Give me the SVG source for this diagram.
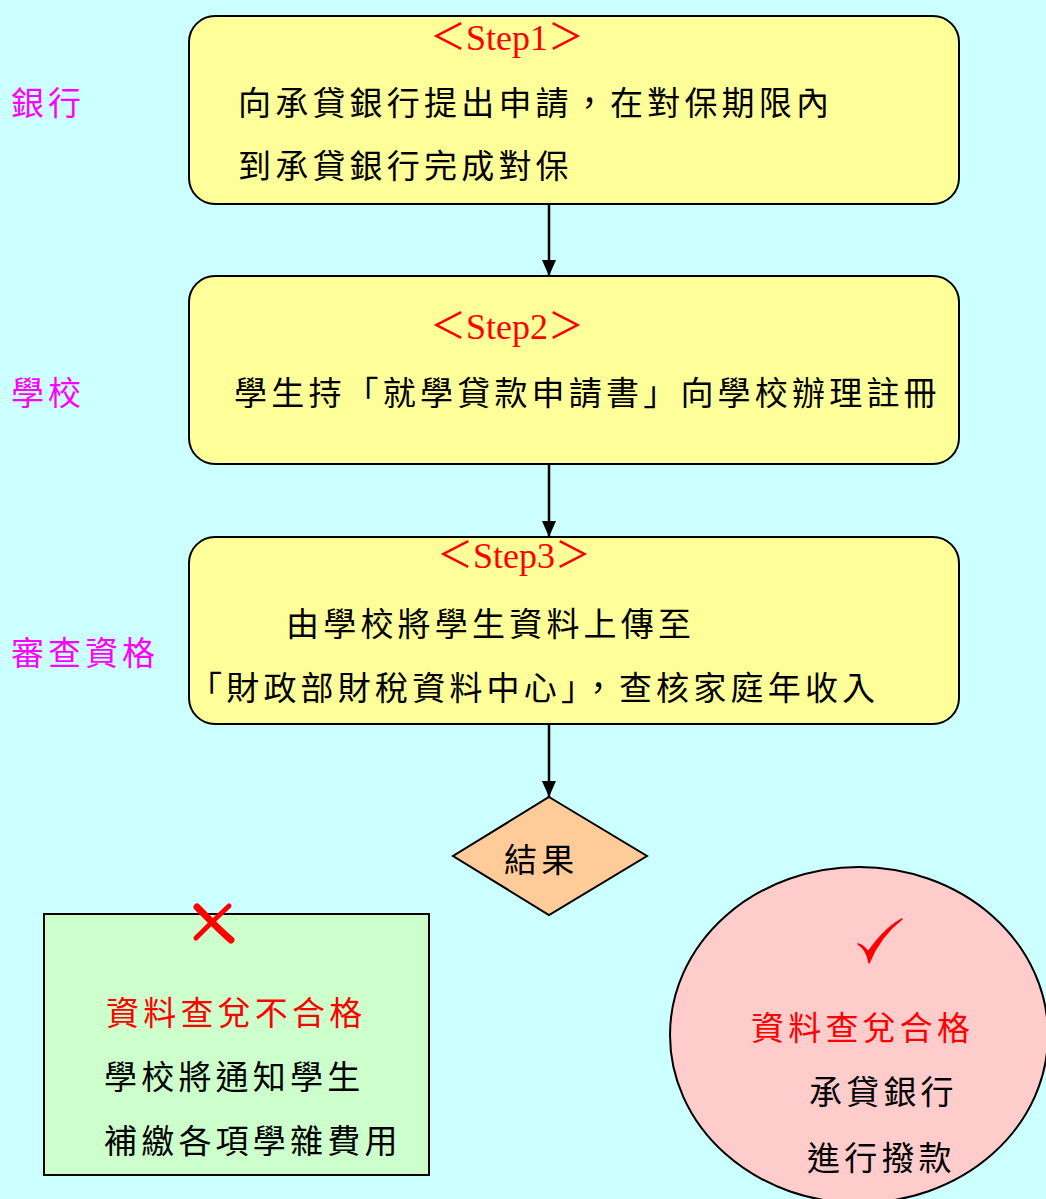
<svg xmlns="http://www.w3.org/2000/svg" width="1046" height="1199" viewBox="0 0 1046 1199">
<defs>
<style>
.box{fill:#FFFF99;stroke:#000;stroke-width:2}
.t{font-family:"Noto Sans CJK TC","Noto Sans CJK SC",sans-serif;font-size:33px;letter-spacing:4.2px;fill:#000}
.side{font-family:"Noto Sans CJK TC",sans-serif;font-size:33px;letter-spacing:4px;fill:#FF00FF}
.red{fill:#FF0000}
.step{font-family:"Liberation Serif","Noto Sans CJK TC",serif;font-size:36px;fill:#FF0000}
.conn{stroke:#000;stroke-width:2.5;fill:none}
</style>
<marker id="arr" viewBox="0 0 16 14" refX="16" refY="7" markerWidth="16" markerHeight="14" markerUnits="userSpaceOnUse" orient="auto">
<path d="M0,0 L16,7 L0,14 Z" fill="#000"/>
</marker>
</defs>
<rect width="1046" height="1199" fill="#CCFFFF"/>
<g id="labels">
<text class="side" x="11" y="115">銀行</text>
<text class="side" x="11" y="405">學校</text>
<text class="side" x="11" y="665">審查資格</text>
</g>
<g id="step1">
<rect class="box" x="189" y="16" width="770" height="188" rx="26"/>
<text class="step" x="430" y="50">＜Step1＞</text>
<text class="t" x="238" y="115">向承貸銀行提出申請，在對保期限內</text>
<text class="t" x="238" y="178">到承貸銀行完成對保</text>
</g>
<g id="step2">
<rect class="box" x="189" y="276" width="770" height="188" rx="26"/>
<text class="step" x="430" y="339">＜Step2＞</text>
<text class="t" x="234" y="405">學生持「就學貸款申請書」向學校辦理註冊</text>
</g>
<g id="step3">
<rect class="box" x="189" y="537" width="770" height="187" rx="26"/>
<text class="step" x="437" y="568">＜Step3＞</text>
<text class="t" x="286" y="636">由學校將學生資料上傳至</text>
<text class="t" x="189" y="700">「財政部財稅資料中心」，查核家庭年收入</text>
</g>
<g id="result">
<polygon points="549,797 647,856 549,915 453,856" fill="#FFCC99" stroke="#000" stroke-width="2"/>
<text class="t" x="504" y="872">結果</text>
</g>
<g id="fail">
<rect x="44" y="914" width="385" height="261" fill="#CCFFCC" stroke="#000" stroke-width="2"/>
<path d="M197,907 C206,916 218,929 231,940" stroke="#FF0000" stroke-width="7" fill="none" stroke-linecap="round"/>
<path d="M229,906 C218,916 207,927 196,938" stroke="#FF0000" stroke-width="5" fill="none" stroke-linecap="round"/>
<text class="t red" x="106" y="1025">資料查兌不合格</text>
<text class="t" x="104" y="1089">學校將通知學生</text>
<text class="t" x="104" y="1153">補繳各項學雜費用</text>
</g>
<g id="pass">
<ellipse cx="859" cy="1035" rx="189" ry="168" fill="#FFCCCC" stroke="#000" stroke-width="2"/>
<path d="M858,944 C864,948 868,955 869,963 C876,946 888,930 902,919 C886,928 876,941 868,952 C865,947 862,945 858,944 Z" fill="#FF0000" stroke="#FF0000" stroke-width="1.5" stroke-linejoin="round"/>
<text class="t red" x="751" y="1040">資料查兌合格</text>
<text class="t" x="809" y="1104">承貸銀行</text>
<text class="t" x="807" y="1170">進行撥款</text>
</g>
<g id="connectors">
<line class="conn" x1="549" y1="204" x2="549" y2="276" marker-end="url(#arr)"/>
<line class="conn" x1="549" y1="464" x2="549" y2="537" marker-end="url(#arr)"/>
<line class="conn" x1="549" y1="724" x2="549" y2="797" marker-end="url(#arr)"/>
</g>
</svg>
